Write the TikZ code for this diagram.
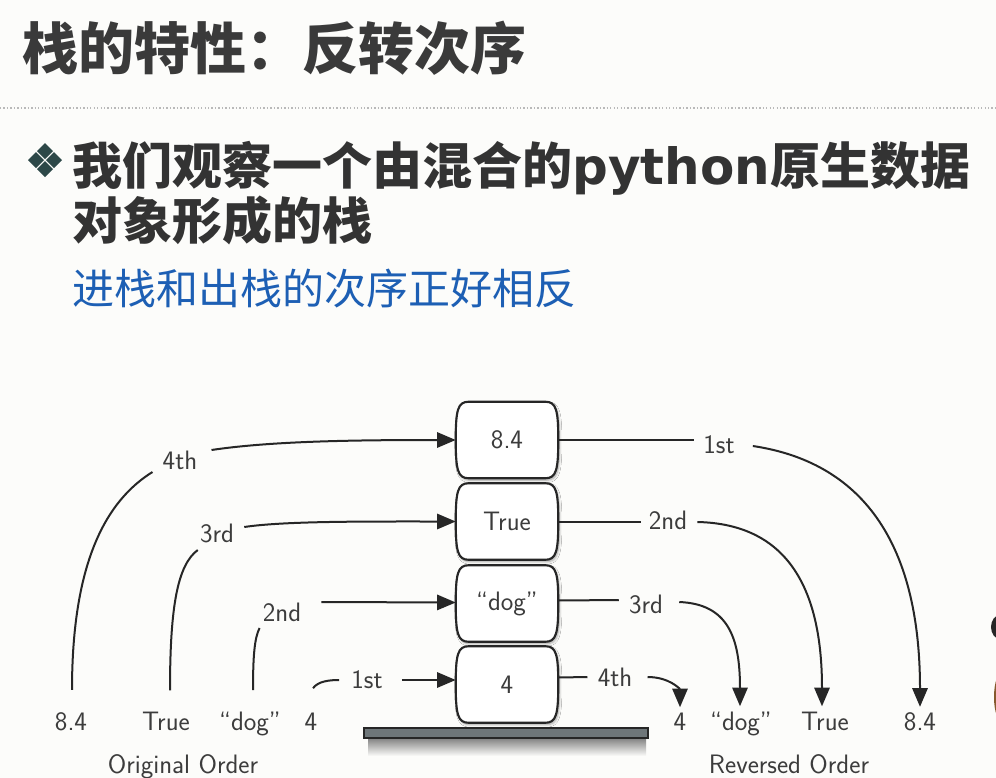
\documentclass[tikz,border=0pt]{standalone}
\usepackage{fontspec}
\newfontfamily\cjk{Noto Sans CJK SC}
\newfontfamily\dvs{DejaVu Sans}
\usetikzlibrary{arrows.meta,calc,shadows,shadows.blur,backgrounds}

\definecolor{pagebg}{HTML}{FCFCFA}
\definecolor{titleink}{HTML}{3A3A3A}
\definecolor{headink}{HTML}{333333}
\definecolor{bulletink}{HTML}{2D4848}
\definecolor{noteblue}{HTML}{1D5FB4}
\definecolor{lineink}{HTML}{262626}
\definecolor{diagtext}{HTML}{3C3C3C}
\definecolor{barfill}{HTML}{6E7679}

% outline of one stack cell: flat top and bottom, sides bowed outwards
\newcommand\stackcell[1]{%
  \draw[cell]
    ($(#1.north west)+(13,0)$) -- ($(#1.north east)+(-13,0)$)
    .. controls ($(#1.north east)+(-2,0)$) and ($(#1.east)+(0,-30)$) .. (#1.east)
    .. controls ($(#1.east)+(0,30)$) and ($(#1.south east)+(-2,0)$) .. ($(#1.south east)+(-13,0)$)
    -- ($(#1.south west)+(13,0)$)
    .. controls ($(#1.south west)+(2,0)$) and ($(#1.west)+(0,30)$) .. (#1.west)
    .. controls ($(#1.west)+(0,-30)$) and ($(#1.north west)+(2,0)$) .. cycle;}

% one small diamond of the bullet mark
\newcommand\bulletpart[2]{%
  \fill[bulletink] (#1,#2-8) -- (#1+8,#2) -- (#1,#2+8) -- (#1-8,#2) -- cycle;}

\begin{document}
\begin{tikzpicture}[x=0.75pt,y=-0.75pt,
  diag/.style={font=\sffamily\fontsize{20}{24}\selectfont, text=diagtext},
  item/.style={diag, inner sep=0pt, anchor=base},
  steplabel/.style={diag, inner sep=0pt},
  slot/.style={diag, minimum width=76.5pt, minimum height=57pt, inner sep=0pt},
  cell/.style={draw=lineink, line width=1.6pt, fill=white,
    blur shadow={shadow xshift=1pt, shadow yshift=-1.5pt, shadow blur steps=6, shadow opacity=35}},
  link/.style={draw=lineink, line width=1.5pt},
  push/.style={link, -{Triangle[length=14pt,width=11.5pt]}}]

\useasboundingbox (0,0) rectangle (996,778);

% ---------- heading ----------
\node[anchor=base west, inner sep=0pt, text=titleink,
      font=\cjk\bfseries\fontsize{42}{48}\selectfont] (title) at (22,69) {栈的特性：反转次序};
\draw[gray!55, line width=1.2pt, dash pattern=on 1pt off 1.6pt] (0,108) -- (996,108);

\bulletpart{45}{151}
\bulletpart{45}{169}
\bulletpart{36}{160}
\bulletpart{54}{160}
\node[anchor=base west, inner sep=0pt, text=headink,
      font=\cjk\bfseries\fontsize{37.5}{44}\selectfont] (lineA) at (72,184)
      {我们观察一个由混合的{\dvs\bfseries python}原生数据};
\node[anchor=base west, inner sep=0pt, text=headink,
      font=\cjk\bfseries\fontsize{37.5}{44}\selectfont] (lineB) at (72,239) {对象形成的栈};
\node[anchor=base west, inner sep=0pt, text=noteblue,
      font=\cjk\fontsize{31.5}{36}\selectfont] (note) at (72,304) {进栈和出栈的次序正好相反};

% ---------- the stack ----------
\node[slot] (s84)   at (507,440) {8.4};
\node[slot] (sTrue) at (507,521.5) {True};
\node[slot] (sdog)  at (507,603.5) {``dog''};
\node[slot] (s4)    at (507,684.5) {4};

\begin{pgfonlayer}{background}
  \fill[pagebg] (0,0) rectangle (996,778);
  % soft shade cast by the base plate
  \shade[top color=black!55, bottom color=pagebg] (368,736) rectangle (646,756);
  \stackcell{s84}
  \stackcell{sTrue}
  \stackcell{sdog}
  \stackcell{s4}
\end{pgfonlayer}

\node[draw=lineink, line width=1.3pt, fill=barfill, minimum width=213pt, minimum height=7.5pt,
      inner sep=0pt] (base) at (506,733) {};

% ---------- original order ----------
\node[item] (o84)   at (71,730)  {8.4};
\node[item] (oTrue) at (166,730) {True};
\node[item] (odog)  at (250,730) {``dog''};
\node[item] (o4)    at (311,730) {4};
\node[item] (orig)  at (183,773) {Original Order};

\node[steplabel] (l4th) at (180,460) {4th};
\node[steplabel] (l3rd) at (217,533) {3rd};
\node[steplabel] (l2nd) at (282,612) {2nd};
\node[steplabel] (l1st) at (367,680) {1st};

\draw[link] ($(o84.north)+(1,-22)$) .. controls +(0,-130) and +(-45,28) .. ($(l4th.west)+(-10,12)$);
\draw[push] ($(l4th.east)+(14,-10)$) .. controls +(60,-9) and +(-100,0) .. (s84.west);

\draw[link] ($(oTrue.north)+(4,-21)$) .. controls +(0,-85) and +(-20,15) .. ($(l3rd.west)+(-2,17)$);
\draw[push] ($(l3rd.east)+(10,-6)$) .. controls +(40,-6) and +(-90,0) .. (sTrue.west);

\draw[link] ($(odog.north)+(3,-21)$) .. controls +(0,-35) and +(-5,10) .. ($(l2nd.west)+(-3,16)$);
\draw[push] ($(l2nd.east)+(20,-10)$) -- ($(sdog.west)+(0,-1)$);

\draw[link] ($(o4.north)+(2,-24)$) .. controls +(5,-7) and +(-10,0) .. ($(l1st.west)+(-12,0)$);
\draw[push] ($(l1st.east)+(19,0)$) -- ($(s4.west)+(0,-4.5)$);

% ---------- reversed order ----------
\node[item] (r4)    at (680,730) {4};
\node[item] (rdog)  at (741,730) {``dog''};
\node[item] (rTrue) at (825,730) {True};
\node[item] (r84)   at (920,730) {8.4};
\node[item] (rev)   at (789,773) {Reversed Order};

\node[steplabel] (r1st) at (719,445) {1st};
\node[steplabel] (r2nd) at (668,520) {2nd};
\node[steplabel] (r3rd) at (646,604) {3rd};
\node[steplabel] (r4th) at (615,677) {4th};

\draw[link] (s84.east) -- ($(r1st.west)+(-9,-5)$);
\draw[push] ($(r1st.east)+(18,1)$) .. controls +(107,16) and +(0,-167) .. ($(r84.north)+(0,-5)$);

\draw[link] (sTrue.east) -- ($(r2nd.west)+(-8,1.5)$);
\draw[push] ($(r2nd.east)+(10,2)$) .. controls +(92,2) and +(0,-115) .. ($(rTrue.north)+(-3,-5)$);

\draw[link] ($(sdog.east)+(0,-3)$) -- ($(r3rd.west)+(-10,-4)$);
\draw[push] ($(r3rd.east)+(16,-2)$) .. controls +(48,2) and +(0,-70) .. ($(rdog.north)+(-1,-5)$);

\draw[link] ($(s4.east)+(0,-7)$) -- ($(r4th.west)+(-10,0)$);
\draw[push] ($(r4th.east)+(15,0)$) .. controls +(22,0) and +(0,-18) .. ($(r4.north)+(0,-5)$);

% ---------- edge of the presenter's frame ----------
\fill[black!85] (1000,627) ellipse [x radius=9, y radius=12];
\fill[brown!70!black] (1003,697) ellipse [x radius=9, y radius=26];

\end{tikzpicture}
\end{document}
